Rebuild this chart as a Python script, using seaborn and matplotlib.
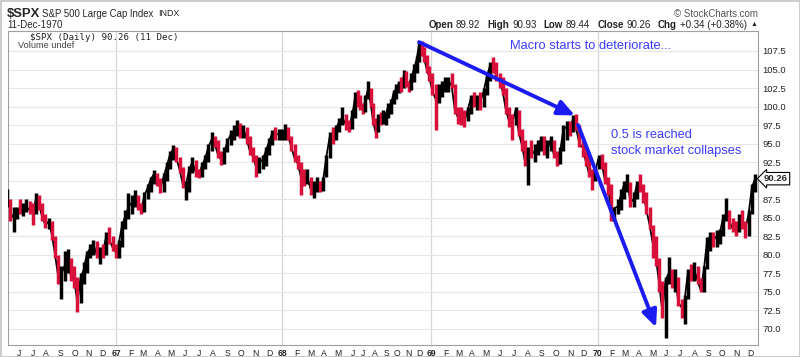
import numpy as np
import pandas as pd
import seaborn as sns
import matplotlib
matplotlib.use("Agg")
import matplotlib.pyplot as plt

# weekly S&P 500 bars (high / low / close), week ending Friday
h66 = [88.8, 87.5, 86.5, 86.5, 87.5, 87.0, 87.5, 87.3, 87.0, 88.3, 88.0, 87.0, 85.5, 85.0, 84.5, 82.5, 80.0,
       78.5, 80.5, 80.8, 79.5, 78.5, 77.0, 77.5, 79.0, 80.5, 81.5, 82.0, 81.8, 81.0, 81.5, 83.0, 83.8, 82.5, 81.5]
l66 = [86.5, 84.5, 83.0, 84.8, 85.5, 85.2, 85.8, 85.5, 84.0, 85.5, 86.0, 84.5, 83.6, 83.5, 82.0, 79.5, 76.0,
       74.0, 76.5, 77.5, 76.5, 75.5, 72.2, 73.5, 76.0, 77.5, 79.5, 80.0, 79.5, 78.8, 79.5, 80.0, 81.5, 80.5, 79.5]
c66 = [87.0, 84.8, 85.4, 86.2, 86.1, 86.5, 86.5, 86.0, 85.5, 87.5, 86.8, 85.0, 84.0, 84.5, 82.7, 80.0, 77.0,
       77.4, 78.5, 79.5, 77.0, 76.6, 73.5, 76.9, 78.0, 80.2, 80.8, 81.5, 80.0, 80.5, 80.3, 82.5, 82.0, 81.0, 80.3]

h67 = [82.0, 84.5, 86.0, 88.3, 88.0, 88.7, 88.0, 87.0, 88.5, 89.5, 90.5, 91.4, 91.0, 90.3, 91.0, 92.5, 94.0,
       94.8, 94.5, 93.2, 91.8, 90.0, 92.0, 93.2, 92.8, 91.5, 92.5, 93.5, 95.0, 96.6, 96.0, 95.5, 94.0, 94.5,
       95.8, 96.8, 97.5, 98.2, 97.8, 97.5, 97.3, 96.0, 94.5, 93.5, 93.2, 93.5, 94.5, 95.8, 96.8, 97.3, 97.0, 97.0]
l67 = [79.5, 81.0, 83.5, 84.8, 85.5, 86.5, 86.0, 85.5, 85.8, 87.5, 88.5, 89.5, 89.3, 88.3, 88.5, 90.0, 91.5,
       92.8, 92.5, 91.0, 89.0, 87.4, 88.5, 91.0, 90.5, 90.3, 90.5, 91.5, 92.5, 94.0, 94.5, 93.0, 92.1, 92.3,
       93.8, 94.8, 95.5, 96.0, 95.8, 95.8, 95.0, 93.5, 92.5, 90.5, 91.0, 91.5, 92.0, 93.5, 94.8, 95.5, 95.5, 95.5]
c67 = [81.6, 84.0, 85.2, 86.5, 87.0, 87.6, 86.8, 86.2, 88.0, 89.0, 90.2, 90.9, 90.2, 89.0, 90.5, 92.0, 93.5,
       94.3, 93.0, 91.5, 89.5, 89.5, 91.5, 92.5, 91.2, 90.8, 92.0, 93.0, 94.5, 95.5, 95.0, 93.5, 92.8, 93.9,
       95.3, 96.2, 96.5, 97.6, 96.7, 97.0, 95.6, 94.0, 93.2, 91.8, 92.5, 92.8, 94.0, 95.2, 96.4, 96.2, 96.3, 96.5]

h68 = [97.7, 97.3, 96.0, 95.0, 93.5, 92.5, 91.5, 91.5, 90.5, 90.0, 90.5, 90.0, 90.5, 93.5, 96.5, 97.3, 97.5,
       98.5, 99.9, 99.0, 98.2, 99.5, 102.0, 102.2, 101.5, 100.5, 101.5, 103.5, 102.5, 100.5, 98.5, 99.0, 99.2,
       99.5, 99.2, 100.5, 101.0, 102.2, 103.0, 103.5, 104.0, 105.0, 104.8, 103.5, 104.5, 105.8, 106.8, 108.9,
       108.8, 108.0, 107.0, 105.5]
l68 = [95.5, 95.5, 94.0, 92.5, 91.5, 88.0, 89.3, 89.5, 88.0, 87.6, 88.5, 88.5, 88.6, 90.5, 93.0, 95.0, 95.5,
       96.5, 97.5, 96.8, 96.5, 97.0, 98.5, 100.0, 99.5, 99.0, 99.3, 101.0, 100.0, 97.5, 95.8, 96.5, 97.5,
       97.7, 97.5, 98.5, 99.0, 100.3, 101.0, 101.8, 102.0, 102.5, 102.7, 102.0, 102.2, 103.3, 104.5, 106.0,
       106.8, 106.0, 104.5, 103.5]
c68 = [96.6, 96.0, 94.5, 93.0, 92.3, 90.5, 90.0, 90.5, 88.9, 89.0, 89.2, 89.0, 90.2, 93.3, 95.9, 95.8, 97.0,
       98.0, 98.5, 97.6, 97.2, 98.7, 101.3, 101.0, 100.0, 99.6, 101.0, 102.3, 100.5, 98.0, 96.5, 98.7, 98.1,
       98.9, 98.9, 100.2, 100.3, 101.8, 102.4, 103.1, 102.9, 104.1, 103.3, 103.0, 103.9, 105.1, 106.3, 108.4,
       107.7, 106.5, 105.0, 104.0]

h69 = [104.5, 103.0, 103.0, 103.5, 104.0, 104.0, 104.5, 103.0, 100.0, 100.0, 99.5, 100.0, 101.5, 102.0, 101.5,
       102.0, 102.5, 104.5, 106.0, 106.7, 106.0, 104.5, 104.0, 102.5, 100.0, 99.0, 100.0, 99.5, 97.0, 95.5,
       94.5, 95.5, 95.0, 95.5, 96.0, 96.0, 95.5, 96.0, 95.5, 94.0, 94.5, 97.5, 98.0, 98.0, 98.8, 99.0, 97.5,
       95.5, 94.5, 93.5, 91.5, 92.0]
l69 = [101.5, 96.8, 100.5, 101.3, 102.0, 102.0, 102.5, 99.0, 97.7, 97.5, 97.3, 98.0, 99.0, 100.0, 99.5,
       99.5, 100.0, 101.5, 103.5, 104.5, 103.5, 102.5, 101.5, 99.0, 97.3, 95.5, 97.5, 96.0, 94.0, 92.0,
       89.4, 93.0, 92.5, 93.5, 94.0, 93.5, 93.0, 94.0, 93.0, 92.0, 92.3, 94.0, 95.5, 96.0, 96.5, 96.8, 94.5,
       93.2, 92.0, 90.5, 88.7, 90.0]
c69 = [102.0, 101.0, 102.0, 102.8, 103.0, 103.5, 102.8, 99.5, 98.5, 98.2, 98.0, 99.5, 101.1, 100.7, 101.0,
       100.8, 102.0, 104.0, 105.5, 105.4, 104.0, 103.5, 102.0, 99.5, 98.0, 97.8, 99.5, 96.5, 94.8, 92.5,
       94.0, 93.5, 94.0, 95.0, 95.5, 94.0, 94.2, 95.5, 93.5, 93.0, 94.0, 97.0, 97.2, 97.1, 98.3, 97.0, 95.0,
       94.5, 92.6, 91.0, 90.5, 91.4]

h70 = [93.5, 93.6, 92.5, 90.5, 89.5, 86.5, 87.5, 88.8, 90.0, 90.9, 89.8, 88.5, 90.0, 90.9, 89.5, 88.5, 86.5,
       84.0, 82.5, 79.5, 76.5, 77.0, 79.7, 78.0, 78.0, 77.0, 74.0, 74.5, 78.0, 78.8, 79.0, 78.5, 76.8, 78.5,
       82.4, 83.0, 83.0, 83.3, 83.5, 85.5, 87.6, 86.0, 85.0, 84.5, 85.5, 86.0, 84.5, 86.0, 89.5, 90.93]
l70 = [91.5, 91.5, 89.5, 88.0, 84.6, 84.5, 85.5, 86.0, 87.5, 88.5, 86.5, 86.5, 87.5, 88.5, 87.0, 85.5, 83.5,
       79.5, 78.5, 75.0, 71.5, 68.7, 76.0, 75.5, 75.0, 73.0, 71.5, 70.7, 74.0, 76.5, 76.5, 76.0, 75.0, 75.0,
       78.0, 80.5, 81.0, 81.1, 81.5, 82.5, 84.5, 83.5, 83.0, 82.5, 83.0, 83.5, 82.2, 82.5, 85.5, 88.5]
c70 = [93.0, 92.4, 90.0, 89.4, 85.0, 86.3, 86.5, 88.0, 89.5, 90.0, 87.0, 87.5, 89.5, 89.0, 88.5, 86.0, 84.0,
       81.5, 79.5, 76.0, 72.3, 76.6, 77.5, 76.0, 77.0, 73.5, 72.9, 74.0, 77.7, 77.0, 78.0, 76.5, 75.2, 78.0,
       81.9, 82.5, 82.0, 82.5, 82.9, 85.0, 85.5, 84.5, 83.5, 83.2, 84.5, 84.0, 83.5, 85.5, 89.0, 90.26]

y_ticks = [70.0, 72.5, 75.0, 77.5, 80.0, 82.5, 85.0, 87.5, 90.0, 92.5, 95.0, 97.5, 100.0, 102.5, 105.0, 107.5]
month_letters = ["J", "F", "M", "A", "M", "J", "J", "A", "S", "O", "N", "D"]

# trading-day calendar (NYSE shut on Wednesdays in the second half of 1968)
days = pd.bdate_range("1966-05-02", "1970-12-11")
days = days[~((days >= "1968-06-12") & (days <= "1968-12-31") & (days.dayofweek == 2))]

weeks = pd.date_range("1966-05-06", "1970-12-11", freq="W-FRI")
bars = pd.DataFrame({
    "x": days.searchsorted(weeks, side="right") - 1,
    "high": h66 + h67 + h68 + h69 + h70,
    "low": l66 + l67 + l68 + l69 + l70,
    "close": c66 + c67 + c68 + c69 + c70,
})
bars["down"] = bars["close"].diff() < 0
bar_colors = np.where(bars["down"], "#d8103a", "black")


def day_x(d):
    return days.searchsorted(pd.Timestamp(d))


sns.set_style("white")
plt.rcParams["font.family"] = ["Liberation Sans", "DejaVu Sans"]

W, H = 800, 357
fig = plt.figure(figsize=(8, 3.57), dpi=100, linewidth=1, edgecolor="#cccccc")
ax = fig.add_axes([8 / W, 12 / H, 750 / W, 314 / H])
ax.set_axisbelow(True)

sns.lineplot(data=bars, x="x", y="close", color="black", lw=1.3, ax=ax, zorder=2)
ax.vlines(bars["x"], bars["low"], bars["high"], colors=bar_colors, lw=2.5, zorder=3)

# x scale: Jan 1967 at px 117, last bar at px 755
i67, iend = day_x("1967-01-03"), len(days) - 1
s = (755 - 117) / (iend - i67)
x0 = i67 - 109 / s
ax.set_xlim(x0, x0 + 750 / s)
ax.set_ylim(67.8, 110.2)

months = pd.date_range("1966-06-01", "1970-12-01", freq="MS")
month_x = [day_x(m) for m in months]
month_lab = [f"{m.year % 100}" if m.month == 1 else month_letters[m.month - 1] for m in months]
ax.set_xticks(month_x)
ax.set_xticklabels(month_lab)
for t, m in zip(ax.get_xticklabels(), months):
    if m.month == 1:
        t.set_fontweight("bold")
quarter_x = [x for x, m in zip(month_x, months) if m.month in (1, 4, 7, 10)]
ax.set_xticks(quarter_x, minor=True)
ax.tick_params(axis="x", which="both", length=0, pad=2.8, labelsize=6.2, colors="#222222")

ax.yaxis.tick_right()
ax.set_yticks(y_ticks)
ax.set_yticklabels(["" if v == 90.0 else f"{v:.1f}" for v in y_ticks])
ax.tick_params(axis="y", length=0, pad=3.4, labelsize=6.8, colors="#222222")

ax.yaxis.grid(True, color="#e6e6e6", lw=0.8)
ax.xaxis.grid(True, which="minor", color="#e6e6e6", lw=0.8)
ax.xaxis.grid(False, which="major")
for m, x in zip(months, month_x):
    if m.month == 1:
        ax.axvline(x, color="#d6d6d6", lw=0.9, zorder=0)
for sp in ax.spines.values():
    sp.set_color("#a0a0a0")
    sp.set_linewidth(0.8)
ax.set_xlabel("")
ax.set_ylabel("")

# last price tag
ax.text(1.008, 90.26, "90.26", transform=ax.get_yaxis_transform(), ha="left", va="center",
        fontsize=6.8, fontweight="bold", clip_on=False,
        bbox=dict(boxstyle="larrow,pad=0.18", fc="white", ec="black", lw=0.8))

# annotations
blue_txt = "#3c3cff"
blue_arr = "#1c1cf2"
arrow = dict(arrowstyle="-|>,head_length=1.0,head_width=0.45", lw=2.8, color=blue_arr,
             shrinkA=0, shrinkB=0)
ax.annotate("", xy=(day_x("1969-11-12"), 98.8), xytext=(day_x("1968-11-29"), 108.7), arrowprops=arrow)
ax.annotate("", xy=(day_x("1970-05-08"), 70.2), xytext=(day_x("1969-11-19"), 97.5), arrowprops=arrow)
ax.text(0.669, 0.952, "Macro starts to deteriorate...", transform=ax.transAxes, color=blue_txt,
        fontsize=9.3, va="center")
ax.text(0.804, 0.669, "0.5 is reached", transform=ax.transAxes, color=blue_txt, fontsize=9.3, va="center")
ax.text(0.804, 0.618, "stock market collapses", transform=ax.transAxes, color=blue_txt, fontsize=9.3,
        va="center")

# header
fig.text(7 / W, 1 - 14 / H, "$SPX", fontsize=9.4, fontweight="bold", va="center")
fig.text(42 / W, 1 - 14 / H, "S&P 500 Large Cap Index", fontsize=6.9, va="center")
fig.text(158 / W, 1 - 14 / H, "INDX", fontsize=6.4, va="center")
fig.text(7 / W, 1 - 25 / H, "11-Dec-1970", fontsize=7, va="center")
fig.text(758 / W, 1 - 14 / H, "\u00a9 StockCharts.com", fontsize=7, va="center", ha="right", color="#555555")
ax.text(22 / 750, 1 - 6 / 314, "$SPX (Daily) 90.26 (11 Dec)", transform=ax.transAxes,
        family="DejaVu Sans Mono", fontsize=6.6, va="center")
ax.text(10 / 750, 1 - 14.5 / 314, "Volume undef", transform=ax.transAxes, fontsize=6.6, va="center",
        color="#444444")

pieces = [("Open", True, 3), ("89.92", False, 7), ("High", True, 3), ("90.93", False, 7),
          ("Low", True, 3), ("89.44", False, 7), ("Close", True, 3), ("90.26", False, 7),
          ("Chg", True, 3), ("+0.34 (+0.38%)", False, 3), ("\u25b2", False, 0)]
renderer = fig.canvas.get_renderer()
xr = 757
for i in range(len(pieces) - 1, -1, -1):
    txt, bold, _ = pieces[i]
    t = fig.text(xr / W, 1 - 25 / H, txt, ha="right", va="center", color="#222222",
                 fontsize=5 if txt == "\u25b2" else 7, fontweight="bold" if bold else "normal")
    w = t.get_window_extent(renderer).width
    if i > 0:
        xr -= w + pieces[i - 1][2]

fig.savefig("out.png", dpi=100)
